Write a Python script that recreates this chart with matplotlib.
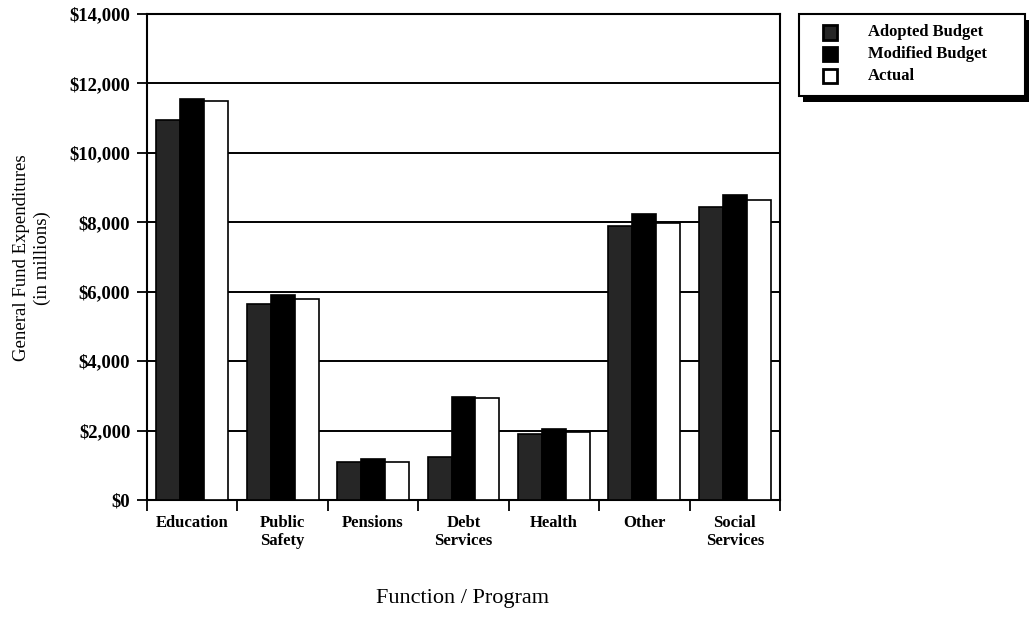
import numpy as np
import matplotlib
matplotlib.use("Agg")
import matplotlib.pyplot as plt
from matplotlib.patches import Rectangle

## datos (millones de dolares)
categorias = ["Education", "Public\nSafety", "Pensions", "Debt\nServices",
              "Health", "Other", "Social\nServices"]
adoptado = [10950, 5650, 1100, 1250, 1900, 7900, 8450]
modificado = [11550, 5900, 1170, 2980, 2050, 8250, 8800]
real = [11500, 5800, 1100, 2930, 1950, 7980, 8650]
series = ["Adopted Budget", "Modified Budget", "Actual"]
colores = ["#262626", "#000000", "#ffffff"]

yticks = np.arange(0, 14001, 2000)
ylabels = ["$0" if v == 0 else "${:,}".format(v) for v in yticks]

plt.rcParams["font.family"] = ["Liberation Serif", "DejaVu Serif"]

W, H = 1032, 632
fig = plt.figure(figsize=(W / 100, H / 100), dpi=100)
ax = fig.add_axes([147 / W, 1 - 500 / H, 633 / W, 486 / H])

x = np.arange(len(categorias))
ancho = 0.265
for i, (valores, color) in enumerate(zip([adoptado, modificado, real], colores)):
    ax.bar(x + (i - 1) * ancho, valores, ancho, color=color,
           edgecolor="black", linewidth=1.2, zorder=3, label=series[i])

ax.set_xlim(-0.5, len(categorias) - 0.5)
ax.set_ylim(0, 14000)

## ticks en los bordes de cada grupo, etiquetas en el centro
ax.set_xticks(np.arange(-0.5, len(categorias)), [""] * (len(categorias) + 1))
ax.set_xticks(x, categorias, minor=True)
ax.tick_params(axis="x", which="major", direction="out", length=8, width=1.3)
ax.tick_params(axis="x", which="minor", length=0, pad=11)
for t in ax.get_xticklabels(minor=True):
    t.set_fontweight("bold")
    t.set_fontsize(12)
    t.set_linespacing(1.15)

ax.set_yticks(yticks, ylabels)
ax.tick_params(axis="y", direction="out", length=7, width=1.3, pad=5)
for t in ax.get_yticklabels():
    t.set_fontweight("bold")
    t.set_fontsize(13.5)

ax.yaxis.grid(True, color="black", linewidth=1.4, zorder=0)
ax.set_axisbelow(True)
for s in ax.spines.values():
    s.set_linewidth(1.5)

fig.text(32 / W, 1 - 258 / H, "General Fund Expenditures\n(in millions)",
         rotation=90, ha="center", va="center", fontsize=13.5, linespacing=1.25)
fig.text(463 / W, 1 - 598 / H, "Function / Program",
         ha="center", va="center", fontsize=16)

## leyenda dibujada a mano: caja con sombra negra
sombra = Rectangle((803 / W, 1 - 102 / H), 226 / W, 82 / H,
                   transform=fig.transFigure, facecolor="black", edgecolor="none")
caja = Rectangle((799 / W, 1 - 96 / H), 226 / W, 82 / H,
                 transform=fig.transFigure, facecolor="white", edgecolor="black",
                 linewidth=1.5)
fig.patches.extend([sombra, caja])
for i, (nombre, color) in enumerate(zip(series, colores)):
    yc = 32.5 + 21.5 * i
    fig.patches.append(Rectangle((823 / W, 1 - (yc + 7) / H), 14 / W, 14 / H,
                                 transform=fig.transFigure, facecolor=color,
                                 edgecolor="black", linewidth=2))
    fig.text(868 / W, 1 - yc / H, nombre, ha="left", va="center",
             fontsize=12, fontweight="bold")

fig.savefig("out.png", dpi=100)
